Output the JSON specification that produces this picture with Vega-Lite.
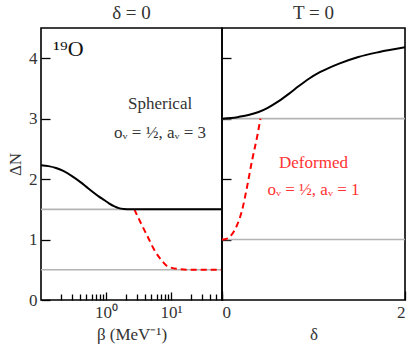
{
  "$schema": "https://vega.github.io/schema/vega-lite/v6.json",
  "background": "white",
  "padding": {"left": 5, "top": 3, "right": 5, "bottom": 5},
  "spacing": 0,
  "bounds": "flush",
  "config": {
    "font": "Liberation Serif",
    "view": {"stroke": "black", "strokeWidth": 1.6},
    "axis": {
      "domain": false,
      "grid": false,
      "tickColor": "black",
      "tickWidth": 1.3,
      "labelFont": "Liberation Serif",
      "labelFontSize": 17,
      "labelColor": "#333333",
      "titleFont": "Liberation Serif",
      "titleFontSize": 17,
      "titleFontWeight": "normal",
      "titleColor": "#333333"
    },
    "text": {"font": "Liberation Serif"},
    "title": {"font": "Liberation Serif", "fontSize": 19, "fontWeight": "normal", "color": "#333333", "offset": 5}
  },
  "datasets": {
    "leftCurves": [
      {"beta": 0.1, "dN": 2.23, "s": "black"},
      {"beta": 0.13, "dN": 2.215, "s": "black"},
      {"beta": 0.17, "dN": 2.185, "s": "black"},
      {"beta": 0.22, "dN": 2.135, "s": "black"},
      {"beta": 0.3, "dN": 2.05, "s": "black"},
      {"beta": 0.4, "dN": 1.955, "s": "black"},
      {"beta": 0.49, "dN": 1.88, "s": "black"},
      {"beta": 0.62, "dN": 1.79, "s": "black"},
      {"beta": 0.78, "dN": 1.71, "s": "black"},
      {"beta": 0.95, "dN": 1.65, "s": "black"},
      {"beta": 1.11, "dN": 1.6, "s": "black"},
      {"beta": 1.35, "dN": 1.55, "s": "black"},
      {"beta": 1.58, "dN": 1.52, "s": "black"},
      {"beta": 1.9, "dN": 1.505, "s": "black"},
      {"beta": 2.26, "dN": 1.5, "s": "black"},
      {"beta": 3, "dN": 1.5, "s": "black"},
      {"beta": 10, "dN": 1.5, "s": "black"},
      {"beta": 61, "dN": 1.5, "s": "black"},
      {"beta": 2.73, "dN": 1.5, "s": "red"},
      {"beta": 3.45, "dN": 1.27, "s": "red"},
      {"beta": 4.37, "dN": 1.05, "s": "red"},
      {"beta": 5.53, "dN": 0.83, "s": "red"},
      {"beta": 7.45, "dN": 0.635, "s": "red"},
      {"beta": 8.5, "dN": 0.57, "s": "red"},
      {"beta": 10, "dN": 0.536, "s": "red"},
      {"beta": 13.4, "dN": 0.51, "s": "red"},
      {"beta": 18, "dN": 0.5, "s": "red"},
      {"beta": 61, "dN": 0.5, "s": "red"}
    ],
    "rightCurves": [
      {"delta": 0, "dN": 3.0, "s": "black"},
      {"delta": 0.1, "dN": 3.01, "s": "black"},
      {"delta": 0.185, "dN": 3.03, "s": "black"},
      {"delta": 0.3, "dN": 3.065, "s": "black"},
      {"delta": 0.4, "dN": 3.11, "s": "black"},
      {"delta": 0.5, "dN": 3.18, "s": "black"},
      {"delta": 0.62, "dN": 3.29, "s": "black"},
      {"delta": 0.73, "dN": 3.41, "s": "black"},
      {"delta": 0.84, "dN": 3.54, "s": "black"},
      {"delta": 0.95, "dN": 3.66, "s": "black"},
      {"delta": 1.06, "dN": 3.76, "s": "black"},
      {"delta": 1.17, "dN": 3.84, "s": "black"},
      {"delta": 1.28, "dN": 3.91, "s": "black"},
      {"delta": 1.49, "dN": 4.02, "s": "black"},
      {"delta": 1.71, "dN": 4.1, "s": "black"},
      {"delta": 2.0, "dN": 4.18, "s": "black"},
      {"delta": 0, "dN": 1.0, "s": "red"},
      {"delta": 0.03, "dN": 1.005, "s": "red"},
      {"delta": 0.06, "dN": 1.02, "s": "red"},
      {"delta": 0.15, "dN": 1.19, "s": "red"},
      {"delta": 0.22, "dN": 1.49, "s": "red"},
      {"delta": 0.275, "dN": 1.88, "s": "red"},
      {"delta": 0.33, "dN": 2.32, "s": "red"},
      {"delta": 0.385, "dN": 2.71, "s": "red"},
      {"delta": 0.42, "dN": 3.0, "s": "red"}
    ],
    "leftRefs": [{"dN": 1.5}, {"dN": 0.5}],
    "rightRefs": [{"dN": 3.0}, {"dN": 1.0}],
    "leftText": [
      {"beta": 6.8, "dN": 3.24, "t": "Spherical"},
      {"beta": 6.8, "dN": 2.77, "t": "oᵥ = ½, aᵥ = 3"}
    ],
    "isotope": [{"beta": 0.155, "dN": 4.15, "t": "¹⁹O"}],
    "rightText": [
      {"delta": 1.0, "dN": 2.27, "t": "Deformed"},
      {"delta": 1.0, "dN": 1.82, "t": "oᵥ = ½, aᵥ = 1"}
    ]
  },
  "hconcat": [
    {
      "width": 181,
      "height": 272,
      "title": {"text": "δ = 0"},
      "encoding": {
        "y": {
          "field": "dN", "type": "quantitative",
          "scale": {"domain": [0, 4.5], "nice": false},
          "axis": {"values": [0, 1, 2, 3, 4], "tickSize": -9, "labelPadding": 13, "title": "ΔN", "titlePadding": 4}
        }
      },
      "layer": [
        {
          "data": {"name": "leftRefs"},
          "mark": {"type": "rule", "color": "#b3b3b3", "strokeWidth": 1.6},
          "encoding": {}
        },
        {
          "data": {"name": "leftCurves"},
          "transform": [{"filter": "datum.s == 'red'"}],
          "mark": {"type": "line", "color": "#ff0000", "strokeWidth": 2, "strokeDash": [6, 4], "interpolate": "monotone", "clip": true},
          "encoding": {
            "x": {
              "field": "beta", "type": "quantitative",
              "scale": {"type": "log", "domain": [0.1, 61], "nice": false},
              "axis": {
                "values": [0.2, 0.3, 0.4, 0.5, 0.6, 0.7, 0.8, 0.9, 1, 2, 3, 4, 5, 6, 7, 8, 9, 10, 20, 30, 40, 50, 60],
                "labelExpr": "datum.value == 1 ? '10⁰' : datum.value == 10 ? '10¹' : ''",
                "tickSize": {"condition": {"test": "datum.value == 1 || datum.value == 10", "value": -8}, "value": -6},
                "labelPadding": 12,
                "title": "β (MeV⁻¹)",
                "titlePadding": 6
              }
            }
          }
        },
        {
          "data": {"name": "leftCurves"},
          "transform": [{"filter": "datum.s == 'black'"}],
          "mark": {"type": "line", "color": "#000000", "strokeWidth": 2, "interpolate": "monotone", "clip": true},
          "encoding": {"x": {"field": "beta", "type": "quantitative"}}
        },
        {
          "data": {"name": "leftText"},
          "mark": {"type": "text", "fontSize": 17, "color": "#333333", "align": "center", "baseline": "middle"},
          "encoding": {"x": {"field": "beta", "type": "quantitative"}, "text": {"field": "t"}}
        },
        {
          "data": {"name": "isotope"},
          "mark": {"type": "text", "fontSize": 22, "color": "#111111", "align": "left", "baseline": "middle"},
          "encoding": {"x": {"field": "beta", "type": "quantitative"}, "text": {"field": "t"}}
        }
      ]
    },
    {
      "width": 183,
      "height": 272,
      "title": {"text": "T = 0"},
      "encoding": {
        "y": {
          "field": "dN", "type": "quantitative",
          "scale": {"domain": [0, 4.5], "nice": false},
          "axis": {"values": [1, 2, 3, 4], "tickSize": -9, "labels": false, "title": null}
        }
      },
      "layer": [
        {
          "data": {"name": "rightRefs"},
          "mark": {"type": "rule", "color": "#b3b3b3", "strokeWidth": 1.6},
          "encoding": {}
        },
        {
          "data": {"name": "rightCurves"},
          "transform": [{"filter": "datum.s == 'red'"}],
          "mark": {"type": "line", "color": "#ff0000", "strokeWidth": 2, "strokeDash": [6, 4], "interpolate": "monotone", "clip": true},
          "encoding": {
            "x": {
              "field": "delta", "type": "quantitative",
              "scale": {"domain": [0, 2], "nice": false},
              "axis": {"values": [0, 1, 2], "format": "d", "tickSize": -9, "labelPadding": 13, "title": "δ", "titlePadding": 6}
            }
          }
        },
        {
          "data": {"name": "rightCurves"},
          "transform": [{"filter": "datum.s == 'black'"}],
          "mark": {"type": "line", "color": "#000000", "strokeWidth": 2, "interpolate": "monotone", "clip": true},
          "encoding": {"x": {"field": "delta", "type": "quantitative"}}
        },
        {
          "data": {"name": "rightText"},
          "mark": {"type": "text", "fontSize": 17, "color": "#ff3333", "align": "center", "baseline": "middle"},
          "encoding": {"x": {"field": "delta", "type": "quantitative"}, "text": {"field": "t"}}
        }
      ]
    }
  ]
}
